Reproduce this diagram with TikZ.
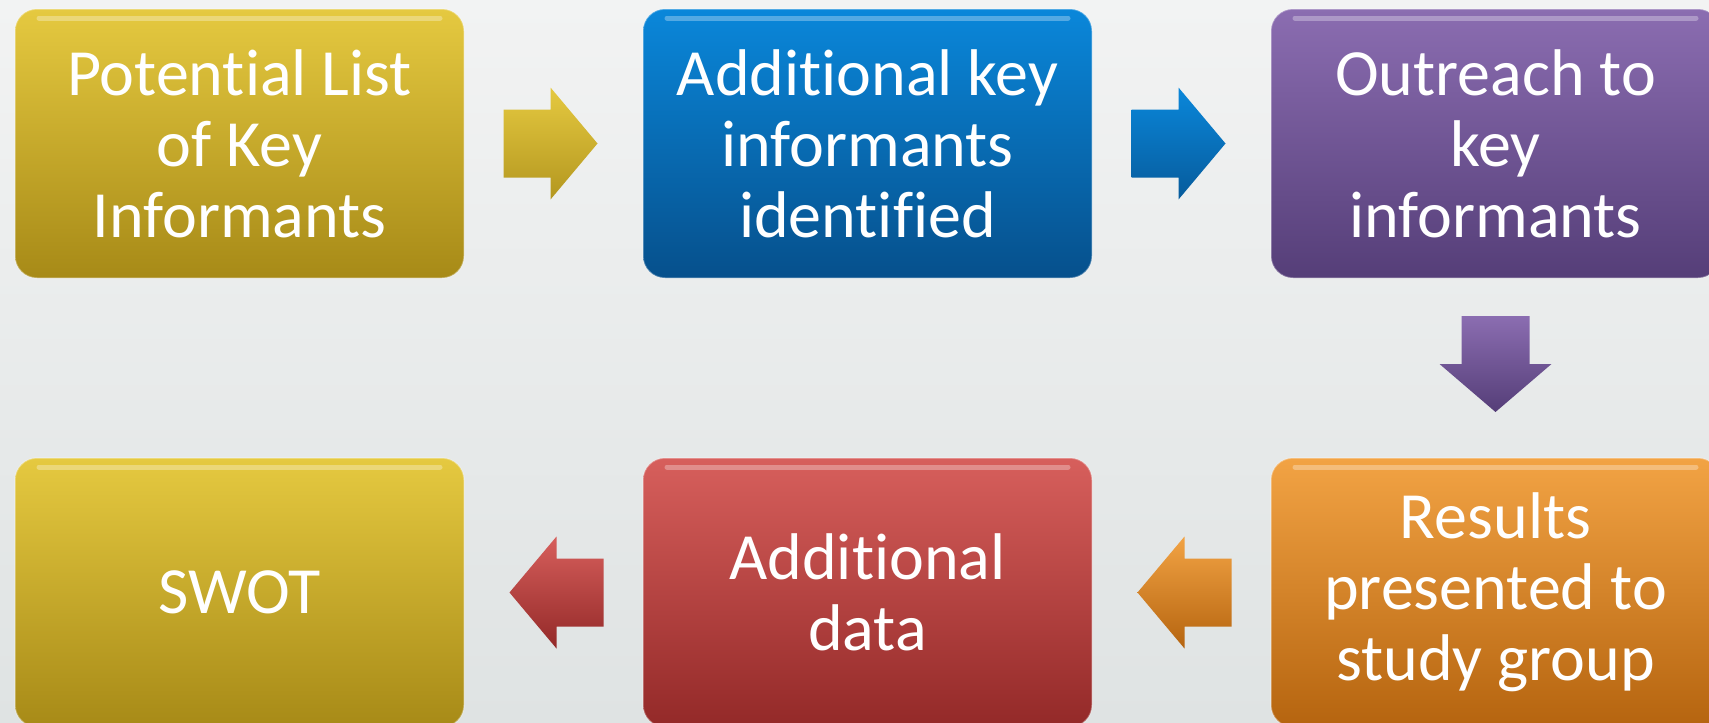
\documentclass[tikz,border=0pt]{standalone}
\usepackage{fontspec}
\setmainfont{Carlito}[Ligatures=NoCommon]
\usetikzlibrary{positioning,calc}

\definecolor{bgtop}{HTML}{F2F3F3}
\definecolor{bgbot}{HTML}{DFE3E3}
\definecolor{goldtop}{HTML}{E5C940}
\definecolor{goldbot}{HTML}{A78A17}
\definecolor{bluetop}{HTML}{0A87DA}
\definecolor{bluebot}{HTML}{06508C}
\definecolor{purptop}{HTML}{8B6DB1}
\definecolor{purpbot}{HTML}{553E78}
\definecolor{orantop}{HTML}{F2A344}
\definecolor{oranbot}{HTML}{B5640F}
\definecolor{redtop}{HTML}{D75F5C}
\definecolor{redbot}{HTML}{932928}

\tikzset{
  arrowright/.pic={\path[pic actions] (-50,34) -- (-3,34) -- (-3,56) -- (44,0)
                   -- (-3,-56) -- (-3,-34) -- (-50,-34) -- cycle;},
  arrowdown/.pic={\path[pic actions] (-34,52) -- (34,52) -- (34,4) -- (56,4)
                   -- (0,-44) -- (-56,4) -- (-34,4) -- cycle;}
}

\begin{document}
\begin{tikzpicture}[x=1pt,y=1pt,node distance=628pt]

  \tikzstyle{stage}=[rectangle,rounded corners=22pt,minimum width=449pt,
                     minimum height=269pt,inner sep=0pt,align=center,
                     text=white,font=\fontsize{66}{71}\selectfont,
                     draw=white,draw opacity=0.3,line width=1.5pt,
                     path picture={\draw[white,opacity=0.3,line width=5pt,line cap=round]
                       ([xshift=24pt,yshift=-9pt]path picture bounding box.north west) --
                       ([xshift=-24pt,yshift=-9pt]path picture bounding box.north east);}]

  \clip (0,0) rectangle (1709,-723);
  \shade[top color=bgtop,bottom color=bgbot] (0,0) rectangle (1709,-723);

  \node[stage,top color=goldtop,bottom color=goldbot] (PL) at (239.5,-143.5) {Potential List\\of Key\\Informants};
  \node[stage,top color=bluetop,bottom color=bluebot] (AK) [right of=PL] {Additional key\\informants\\identified};
  \node[stage,top color=purptop,bottom color=purpbot] (OK) [right of=AK] {Outreach to\\key\\informants};
  \node[stage,top color=orantop,bottom color=oranbot,node distance=449pt] (RS) [below of=OK] {Results\\presented to\\study group};
  \node[stage,top color=redtop,bottom color=redbot]   (AD) [left of=RS] {Additional\\data};
  \node[stage,top color=goldtop,bottom color=goldbot] (SW) [left of=AD] {SWOT};

  % block arrows between the stages
  \pic[top color=goldtop,bottom color=goldbot!80!goldtop] at ($(PL)!0.5!(AK)$) {arrowright};
  \pic[top color=bluetop,bottom color=bluebot!80!bluetop] at ($(AK)!0.5!(OK)$) {arrowright};
  \pic[top color=purptop,bottom color=purpbot]             at ($(OK)!0.5!(RS)$) {arrowdown};
  \pic[top color=orantop,bottom color=oranbot,xscale=-1]   at ($(RS)!0.5!(AD)$) {arrowright};
  \pic[top color=redtop,bottom color=redbot,xscale=-1]     at ($(AD)!0.5!(SW)$) {arrowright};
\end{tikzpicture}
\end{document}
